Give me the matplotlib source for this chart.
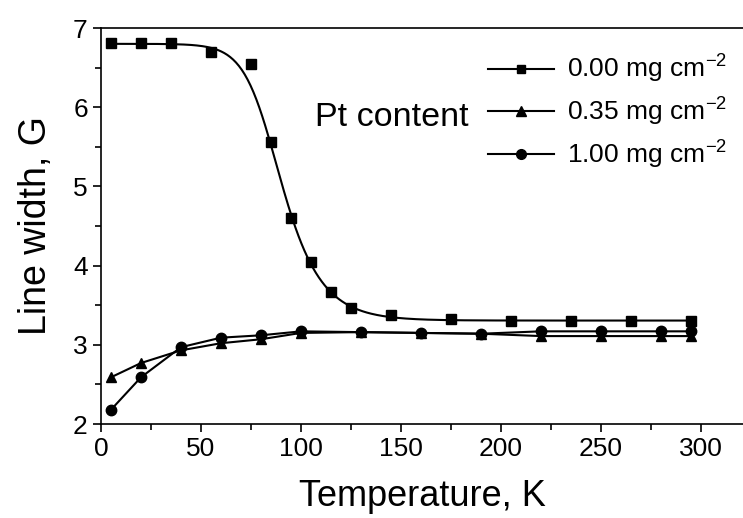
import numpy as np
import matplotlib
matplotlib.use("Agg")
import matplotlib.pyplot as plt
from matplotlib.ticker import MultipleLocator

plt.rcParams["font.family"] = ["Liberation Sans", "DejaVu Sans"]
plt.rcParams["mathtext.fontset"] = "custom"
plt.rcParams["mathtext.rm"] = "Liberation Sans"
plt.rcParams["mathtext.it"] = "Liberation Sans"

# Line width vs temperature, three Pt loadings
temp_000 = [5, 20, 35, 55, 75, 85, 95, 105, 115, 125, 145, 175, 205, 235, 265, 295]
width_000 = [6.81, 6.81, 6.81, 6.70, 6.55, 5.56, 4.60, 4.05, 3.67, 3.46, 3.37, 3.32,
             3.30, 3.30, 3.30, 3.30]

temp_035 = [5, 20, 40, 60, 80, 100, 130, 160, 190, 220, 250, 280, 295]
width_035 = [2.59, 2.77, 2.93, 3.02, 3.07, 3.15, 3.16, 3.15, 3.14, 3.11, 3.11, 3.11, 3.11]

temp_100 = [5, 20, 40, 60, 80, 100, 130, 160, 190, 220, 250, 280, 295]
width_100 = [2.18, 2.59, 2.97, 3.09, 3.12, 3.17, 3.16, 3.15, 3.14, 3.17, 3.17, 3.17, 3.17]

labels = [r"0.00 mg cm$^{-2}$", r"0.35 mg cm$^{-2}$", r"1.00 mg cm$^{-2}$"]


def sigmoid_fit(x, y, skip=()):
    # asymmetric (Richards) sigmoid, grid search on x0/dx/s,
    # the two amplitudes come from linear least squares
    x = np.asarray(x, float)
    y = np.asarray(y, float)
    keep = np.array([v not in skip for v in x])
    xf, yf = x[keep], y[keep]
    x0 = np.linspace(70, 110, 81)[:, None, None, None]
    dx = np.linspace(2, 25, 93)[None, :, None, None]
    s = np.linspace(0.2, 3.0, 57)[None, None, :, None]
    f = (1.0 + np.exp(np.clip((xf - x0) / dx, -50, 50))) ** (-s)
    fm = f.mean(axis=-1, keepdims=True)
    ym = yf.mean()
    b = ((f - fm) * (yf - ym)).sum(-1, keepdims=True) / ((f - fm) ** 2).sum(-1, keepdims=True)
    a = ym - b * fm
    err = ((a + b * f - yf) ** 2).sum(-1)
    i, j, k = np.unravel_index(np.argmin(err), err.shape)
    px0, pdx, ps = x0[i, 0, 0, 0], dx[0, j, 0, 0], s[0, 0, k, 0]
    pa, pb = a[i, j, k, 0], b[i, j, k, 0]
    xs = np.linspace(x.min(), x.max(), 400)
    ys = pa + pb * (1.0 + np.exp((xs - px0) / pdx)) ** (-ps)
    return xs, ys


fig = plt.figure(figsize=(7.43, 5.18), dpi=100)
ax = fig.add_axes([101 / 743, 94 / 518, 642 / 743, 396 / 518])

# the published curve passes beside the 75 K point, so leave it out of the fit
fit_x, fit_y = sigmoid_fit(temp_000, width_000, skip=(75,))
ax.plot(fit_x, fit_y, color="black", linewidth=1.5)
ax.plot(temp_000, width_000, linestyle="none", marker="s", markersize=6.5, color="black")
ax.plot(temp_035, width_035, color="black", linewidth=1.5, marker="^", markersize=7.5)
ax.plot(temp_100, width_100, color="black", linewidth=1.5, marker="o", markersize=7.5)

# legend proxies (line-marker-line)
h1, = ax.plot([], [], color="black", linewidth=1.5, marker="s", markersize=6)
h2, = ax.plot([], [], color="black", linewidth=1.5, marker="^", markersize=7)
h3, = ax.plot([], [], color="black", linewidth=1.5, marker="o", markersize=7)
ax.legend([h1, h2, h3], labels, loc="upper left", bbox_to_anchor=(0.603, 0.937),
          frameon=False, fontsize=19, handlelength=2.5, handletextpad=0.5,
          labelspacing=0.4, borderpad=0, borderaxespad=0, numpoints=1)

ax.text(107, 5.87, "Pt content", fontsize=24.5, ha="left", va="center")

ax.set_xlim(0, 321)
ax.set_ylim(2, 7)
ax.xaxis.set_major_locator(MultipleLocator(50))
ax.xaxis.set_minor_locator(MultipleLocator(25))
ax.yaxis.set_major_locator(MultipleLocator(1))
ax.yaxis.set_minor_locator(MultipleLocator(0.5))
ax.tick_params(which="both", direction="out", width=1.2, labelsize=19, top=False, right=False)
ax.tick_params(which="major", length=6)
ax.tick_params(which="minor", length=4)
ax.spines["right"].set_visible(False)
for s in ("left", "bottom", "top"):
    ax.spines[s].set_linewidth(1.2)

ax.set_xlabel("Temperature, K", fontsize=26, labelpad=13)
ax.set_ylabel("Line width, G", fontsize=27, labelpad=14)

fig.savefig("out.png", dpi=100)
